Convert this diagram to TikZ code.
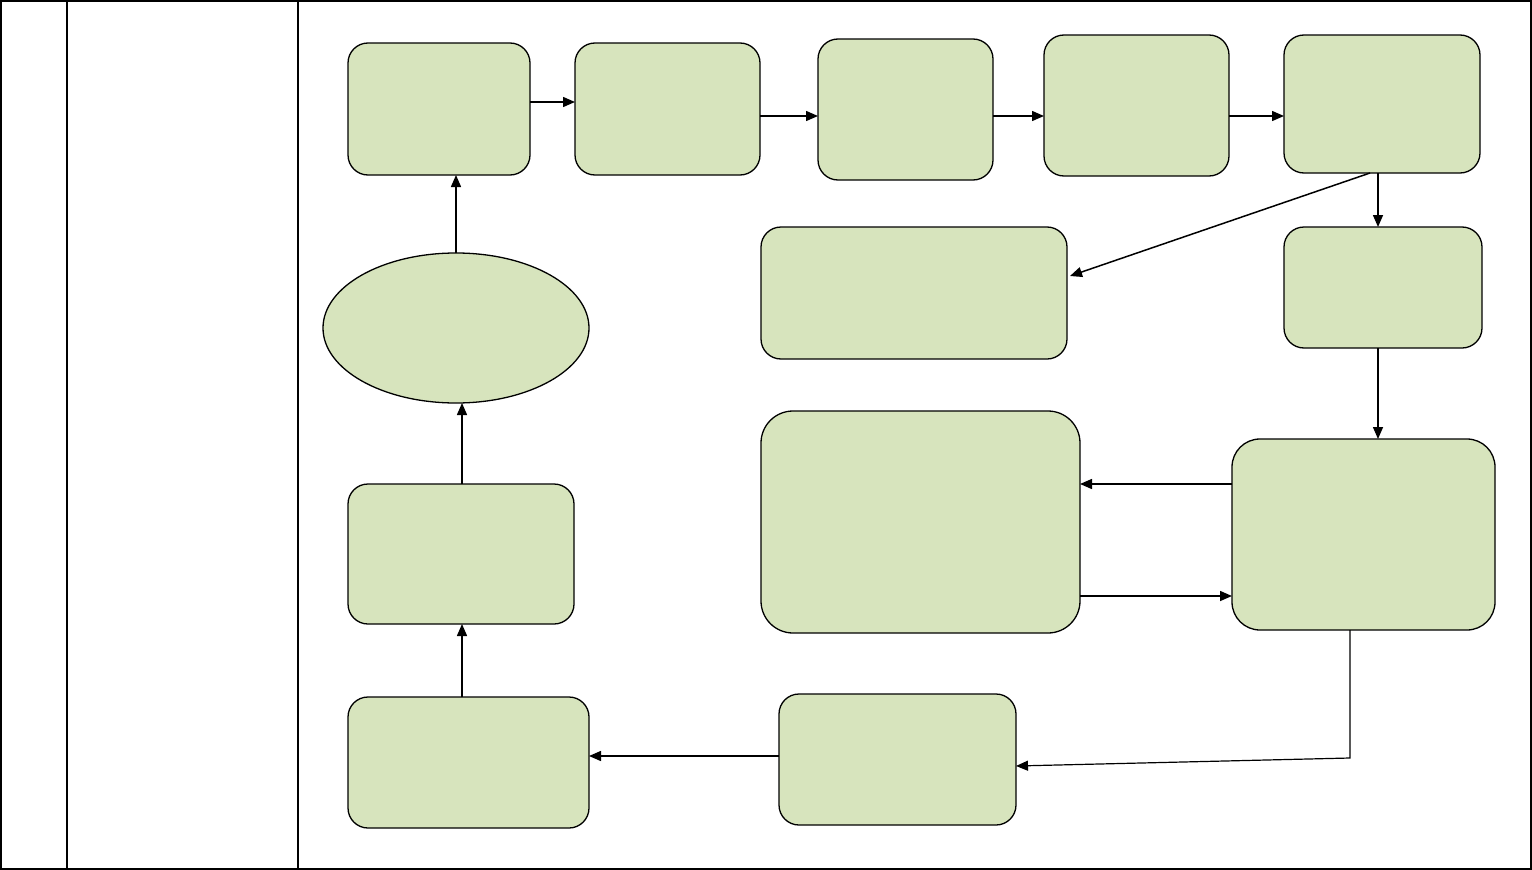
\documentclass[tikz,border=0pt]{standalone}
\usetikzlibrary{arrows.meta,shapes.geometric}
\definecolor{boxfill}{HTML}{D7E4BD}
\begin{document}
\begin{tikzpicture}[x=1pt,y=-1pt,
  box/.style={draw=black,fill=boxfill,line width=1.3pt,rounded corners=20pt,inner sep=0pt,outer sep=0pt},
  oval/.style={draw=black,fill=boxfill,line width=1.3pt,ellipse,inner sep=0pt,outer sep=0pt},
  arr/.style={line width=1.5pt,-{Triangle[length=12pt,width=10pt]}},
  frame/.style={line width=2pt}]
\useasboundingbox (0,0) rectangle (1532,870);
% frame
\draw[frame] (1,1) rectangle (1531,869);
\coordinate (ct1) at (67,1); \coordinate (cb1) at (67,869);
\coordinate (ct2) at (298,1); \coordinate (cb2) at (298,869);
\draw[frame] (ct1) -- (cb1);
\draw[frame] (ct2) -- (cb2);
% boxes
\node[box,minimum width=182pt,minimum height=132pt] (b1) at (439,109) {};
\node[box,minimum width=185pt,minimum height=132pt] (b2) at (667.5,109) {};
\node[box,minimum width=175pt,minimum height=141pt] (b3) at (905.5,109.5) {};
\node[box,minimum width=185pt,minimum height=141pt] (b4) at (1136.5,105.5) {};
\node[box,minimum width=196pt,minimum height=138pt] (b5) at (1382,104) {};
\node[box,minimum width=306pt,minimum height=132pt] (b6) at (914,293) {};
\node[box,minimum width=198pt,minimum height=121pt] (b7) at (1383,287.5) {};
\node[oval,minimum width=266pt,minimum height=150pt] (ell) at (456,328) {};
\node[box,minimum width=319pt,minimum height=222pt,rounded corners=32pt] (b8) at (920.5,522) {};
\node[box,minimum width=263pt,minimum height=191pt,rounded corners=28pt] (b9) at (1363.5,534.5) {};
\node[box,minimum width=226pt,minimum height=140pt] (b10) at (461,554) {};
\node[box,minimum width=241pt,minimum height=131pt] (b11) at (468.5,762.5) {};
\node[box,minimum width=237pt,minimum height=131pt] (b12) at (897.5,759.5) {};
% connectors
\coordinate (p1) at ([yshift=7pt]b1.east);
\draw[arr] (p1) -- (p1 -| b2.west);
\coordinate (p2) at ([yshift=-7pt]b2.east);
\draw[arr] (p2) -- (p2 -| b3.west);
\coordinate (p3) at ([yshift=-6.5pt]b3.east);
\draw[arr] (p3) -- (p3 -| b4.west);
\coordinate (p4) at ([yshift=-10.5pt]b4.east);
\draw[arr] (p4) -- (p4 -| b5.west);
\coordinate (p5) at ([xshift=-4pt]b5.south);
\draw[arr] (p5) -- (p5 |- b7.north);
\coordinate (p6) at ([xshift=-12pt]b5.south);
\coordinate (p6e) at ([yshift=17pt,xshift=3pt]b6.east);
\draw[arr] (p6) -- (p6e);
\coordinate (p7) at ([xshift=-5pt]b7.south);
\draw[arr] (p7) -- (p7 |- b9.north);
\coordinate (p8) at ([yshift=50.5pt]b9.west);
\draw[arr] (p8) -- (p8 -| b8.east);
\coordinate (p9) at ([yshift=-74pt]b8.east);
\draw[arr] (p9) -- (p9 -| b9.west);
\coordinate (p10) at ([xshift=-13.5pt]b9.south);
\coordinate (k10) at (1350,758);
\draw[arr,line width=1.2pt] (p10) -- (k10) -- ([yshift=-6.5pt]b12.east);
\coordinate (p11) at ([yshift=3.5pt]b12.west);
\draw[arr] (p11) -- (p11 -| b11.east);
\coordinate (p12) at ([xshift=-6.5pt]b11.north);
\draw[arr] (p12) -- (p12 |- b10.south);
\coordinate (p13) at ([xshift=1pt]b10.north);
\draw[arr] (p13) -- (p13 |- ell.south);
\draw[arr] (ell.north) -- (ell.north |- b1.south);
\end{tikzpicture}
\end{document}
